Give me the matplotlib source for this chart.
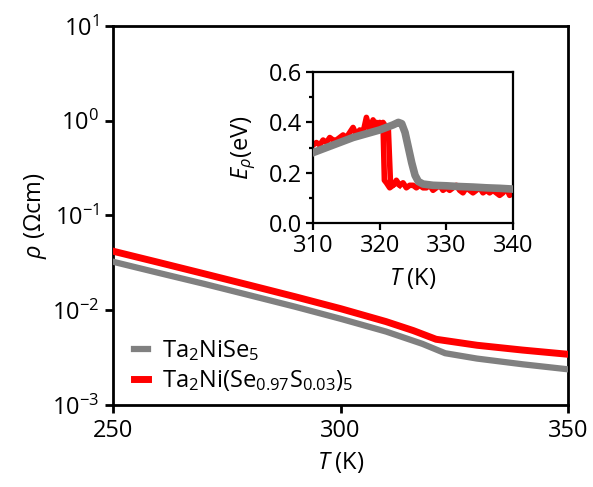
import numpy as np
import matplotlib.pyplot as plt
from matplotlib.ticker import NullLocator, MultipleLocator

plt.rcParams['font.family'] = ['Open Sans', 'DejaVu Sans']
plt.rcParams['mathtext.fontset'] = 'custom'
plt.rcParams['mathtext.rm'] = 'Open Sans'
plt.rcParams['mathtext.it'] = 'Open Sans:italic'
plt.rcParams['mathtext.bf'] = 'Open Sans:bold'

GRAY = '#808080'
RED = '#ff0000'

# main panel: resistivity vs temperature
T_gray = [250, 260, 270, 280, 290, 300, 310, 318, 323, 330, 340, 350]
rho_gray = [0.0325, 0.0248, 0.0190, 0.0144, 0.0109, 0.00813, 0.00596,
            0.00442, 0.00352, 0.00309, 0.00269, 0.00238]
T_red = [250, 260, 270, 280, 290, 300, 310, 316, 321, 330, 340, 350]
rho_red = [0.0420, 0.0320, 0.0243, 0.0184, 0.0139, 0.0104, 0.00759,
           0.00610, 0.00494, 0.00427, 0.00380, 0.00343]

# inset: activation energy
Ti_gray = [310, 312, 314, 316, 318, 320, 321, 322, 322.8, 323.3, 323.8, 324.3,
           324.8, 325.3, 325.8, 326.5, 328, 330, 332, 334, 336, 338, 340]
E_gray = [0.28, 0.30, 0.32, 0.34, 0.355, 0.37, 0.38, 0.39, 0.40, 0.395, 0.36,
          0.30, 0.24, 0.19, 0.165, 0.155, 0.15, 0.148, 0.145, 0.143, 0.14,
          0.138, 0.135]
Ti_red = [310, 310.5, 311, 311.5, 312, 312.5, 313, 313.5, 314, 314.5, 315,
          315.5, 316, 316.5, 317, 317.5, 318, 318.5, 319, 319.5, 320, 320.5,
          320.7, 321, 321.5, 322, 322.5, 323, 323.5, 324, 324.5, 325, 325.5,
          326, 326.5, 327, 327.5, 328, 328.5, 329, 329.5, 330, 330.5, 331,
          331.5, 332, 332.5, 333, 333.5, 334, 334.5, 335, 335.5, 336, 336.5,
          337, 337.5, 338, 338.5, 339, 339.5, 340]
E_red = [0.31, 0.32, 0.31, 0.33, 0.32, 0.34, 0.33, 0.33, 0.34, 0.35, 0.34,
         0.36, 0.38, 0.35, 0.37, 0.36, 0.42, 0.37, 0.41, 0.38, 0.40, 0.39,
         0.17, 0.16, 0.14, 0.15, 0.17, 0.15, 0.16, 0.14, 0.15, 0.15, 0.14,
         0.15, 0.14, 0.14, 0.15, 0.13, 0.14, 0.15, 0.13, 0.14, 0.13, 0.14,
         0.15, 0.13, 0.12, 0.14, 0.13, 0.12, 0.13, 0.14, 0.12, 0.13, 0.12,
         0.13, 0.12, 0.11, 0.12, 0.14, 0.11, 0.12]
# second red sweep, drops a bit later
Ti_red2 = [318.5, 319, 319.5, 320, 320.5, 321, 321.3, 321.6, 322, 322.5, 323]
E_red2 = [0.38, 0.39, 0.40, 0.39, 0.40, 0.38, 0.37, 0.17, 0.15, 0.16, 0.15]

FS = 17

fig = plt.figure(figsize=(5.93, 4.87), dpi=100)
ax = fig.add_axes([0.1906, 0.1684, 0.7672, 0.7782])

ax.plot(T_gray, rho_gray, color=GRAY, lw=4.5, label=r'Ta$_2$NiSe$_5$', zorder=3)
ax.plot(T_red, rho_red, color=RED, lw=5,
        label=r'Ta$_2$Ni(Se$_{0.97}$S$_{0.03}$)$_5$', zorder=3)

ax.set_yscale('log')
ax.set_xlim(250, 350)
ax.set_ylim(1e-3, 1e1)
ax.set_xticks([250, 300, 350])
ax.set_yticks([1e-3, 1e-2, 1e-1, 1e0, 1e1])
ax.yaxis.set_minor_locator(NullLocator())
ax.tick_params(direction='out', length=6, width=2, labelsize=FS, pad=4)
for s in ax.spines.values():
    s.set_linewidth(2)
ax.set_xlabel(r'$T$ (K)', fontsize=FS, labelpad=5)
ax.set_ylabel(r'$\rho$ ($\Omega$cm)', fontsize=FS, labelpad=2)

ax.legend(loc='lower left', bbox_to_anchor=(0.02, 0.0), frameon=False,
          fontsize=FS, handlelength=0.6, handletextpad=0.6,
          labelspacing=0.2, borderaxespad=0.1)

# inset
axi = fig.add_axes([0.528, 0.542, 0.337, 0.310])
axi.plot(Ti_red, E_red, color=RED, lw=4, zorder=2)
axi.plot(Ti_red2, E_red2, color=RED, lw=4, zorder=2)
axi.plot(Ti_gray, E_gray, color=GRAY, lw=5.5, zorder=3)
axi.set_xlim(310, 340)
axi.set_ylim(0, 0.6)
axi.set_xticks([310, 320, 330, 340])
axi.set_yticks([0.0, 0.2, 0.4, 0.6])
axi.set_yticklabels(['0.0', '0.2', '0.4', '0.6'])
axi.yaxis.set_minor_locator(MultipleLocator(0.1))
axi.xaxis.set_minor_locator(NullLocator())
axi.tick_params(which='both', direction='out', width=1.6, labelsize=FS, pad=3)
axi.tick_params(which='major', length=5)
axi.tick_params(which='minor', length=3)
for s in axi.spines.values():
    s.set_linewidth(1.6)
axi.set_xlabel(r'$T$ (K)', fontsize=FS, labelpad=6)
axi.set_ylabel(r'$E_\rho$(eV)', fontsize=FS, labelpad=8)

fig.savefig('out.png', dpi=100)
